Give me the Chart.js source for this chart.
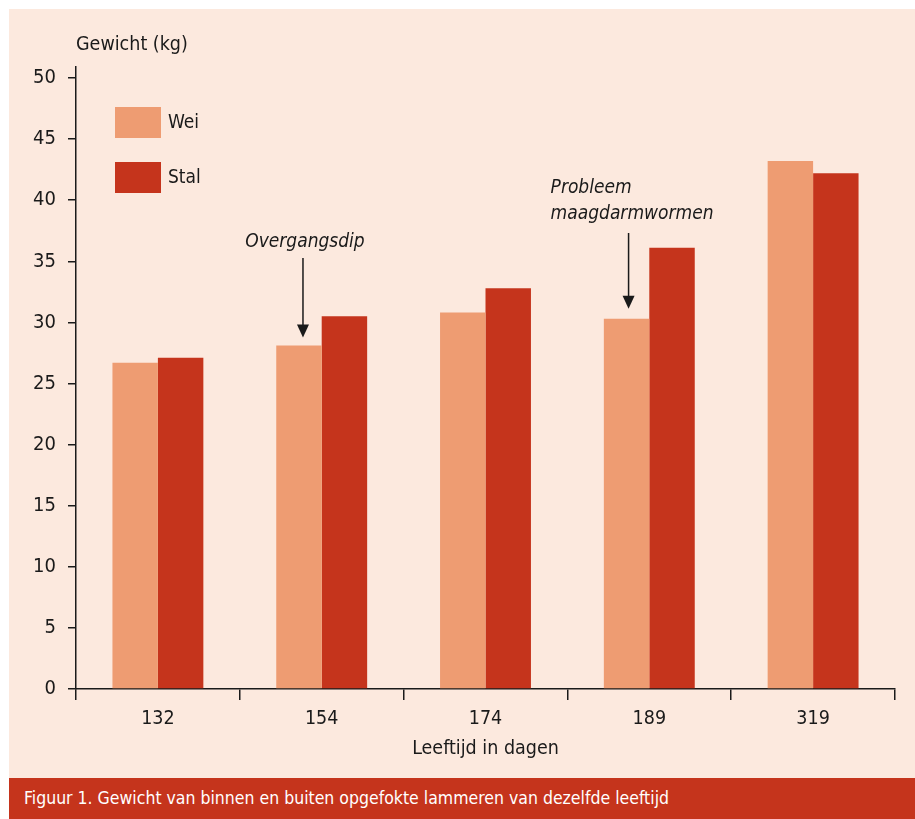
<!DOCTYPE html>
<html>
<head>
<meta charset="utf-8">
<script src="https://cdn.jsdelivr.net/npm/chart.js@4/dist/chart.umd.min.js"></script>
<style>
  html, body { margin: 0; padding: 0; background: #ffffff; }
  body { width: 915px; height: 819px; position: relative; overflow: hidden; }
  #panel { position: absolute; left: 9px; top: 9px; width: 906px; height: 769px; background: #fce9de; }
  #caption {
    position: absolute; left: 9px; top: 778px; width: 906px; height: 41px;
    background: #c5341c; color: #ffffff;
    font-family: 'Liberation Sans Narrow', 'DejaVu Sans Condensed', 'Liberation Sans', sans-serif;
    font-size: 17.5px; line-height: 41px; padding-left: 15px; box-sizing: border-box;
  }
</style>
</head>
<body>
<div id="panel"><canvas id="lamChart"></canvas></div>
<div id="caption">Figuur 1. Gewicht van binnen en buiten opgefokte lammeren van dezelfde leeftijd</div>
<script>
const categories = ['132', '154', '174', '189', '319'];
const weiValues = [26.7, 28.1, 30.8, 30.3, 43.2];
const stalValues = [27.1, 30.5, 32.8, 36.1, 42.2];
const yTicks = [0, 5, 10, 15, 20, 25, 30, 35, 40, 45, 50];

const FONT = "'Liberation Sans Narrow', 'DejaVu Sans Condensed', 'Liberation Sans', sans-serif";
const INK = '#1a1a1a';

// legend, y title and the two arrows with their notes
const extras = {
    id: 'extras',
    afterDraw(chart) {
        const c = chart.ctx;
        c.save();
        c.fillStyle = INK;
        c.font = '19.5px ' + FONT;
        c.textBaseline = 'middle';
        c.textAlign = 'left';
        c.fillText('Gewicht (kg)', chart.chartArea.left, 36);

        // legend
        c.font = '19px ' + FONT;
        chart.data.datasets.forEach(function (ds, i) {
            const y = 98 + i * 55;
            c.fillStyle = ds.backgroundColor;
            c.fillRect(106, y, 46, 31);
            c.fillStyle = INK;
            c.fillText(ds.label, 159, y + 16);
        });

        // arrows pointing at the Wei bars
        const bars = chart.getDatasetMeta(0).data;
        function arrow(x, y0, y1) {
            c.strokeStyle = INK;
            c.lineWidth = 1.5;
            c.beginPath();
            c.moveTo(x, y0);
            c.lineTo(x, y1 - 10);
            c.stroke();
            c.fillStyle = INK;
            c.beginPath();
            c.moveTo(x - 6, y1 - 13);
            c.lineTo(x + 6, y1 - 13);
            c.lineTo(x, y1);
            c.closePath();
            c.fill();
        }
        c.font = 'italic 19px ' + FONT;

        const b1 = bars[1];
        arrow(b1.x + 4, 249, b1.y - 8);
        c.textAlign = 'center';
        c.fillText('Overgangsdip', b1.x + 6, 233);

        const b3 = bars[3];
        arrow(b3.x + 2, 224, b3.y - 10);
        c.textAlign = 'left';
        c.fillText('Probleem', b3.x - 76, 179);
        c.fillText('maagdarmwormen', b3.x - 76, 205);
        c.restore();
    }
};

new Chart(document.getElementById('lamChart'), {
    type: 'bar',
    data: {
        labels: categories,
        datasets: [
            { label: 'Wei', data: weiValues, backgroundColor: '#ee9c72' },
            { label: 'Stal', data: stalValues, backgroundColor: '#c5341c' }
        ]
    },
    options: {
        responsive: true,
        maintainAspectRatio: false,
        animation: false,
        datasets: { bar: { categoryPercentage: 0.555, barPercentage: 1.0, borderWidth: 0 } },
        layout: { padding: { top: 58, right: 20, left: 0, bottom: 0 } },
        plugins: {
            legend: { display: false },
            tooltip: { enabled: false }
        },
        scales: {
            x: {
                grid: { drawOnChartArea: false, drawTicks: true, tickLength: 11, color: INK, lineWidth: 1.5 },
                border: { display: true, color: INK, width: 1.5 },
                ticks: { color: INK, padding: 7, font: { family: FONT, size: 19.5 } },
                title: {
                    display: true, text: 'Leeftijd in dagen', color: INK,
                    font: { family: FONT, size: 19.5 }, padding: { top: 0, bottom: 17 }
                },
                afterFit: function (s) { s.height = 89; }
            },
            y: {
                min: 0,
                max: 50.9,
                afterBuildTicks: function (s) { s.ticks = yTicks.map(function (v) { return { value: v }; }); },
                grid: { drawOnChartArea: false, drawTicks: true, tickLength: 8, color: INK, lineWidth: 1.5 },
                border: { display: true, color: INK, width: 1.5 },
                ticks: { color: INK, padding: 12, font: { family: FONT, size: 20 } },
                afterFit: function (s) { s.width = 67; }
            }
        }
    },
    plugins: [extras]
});
</script>
</body>
</html>
